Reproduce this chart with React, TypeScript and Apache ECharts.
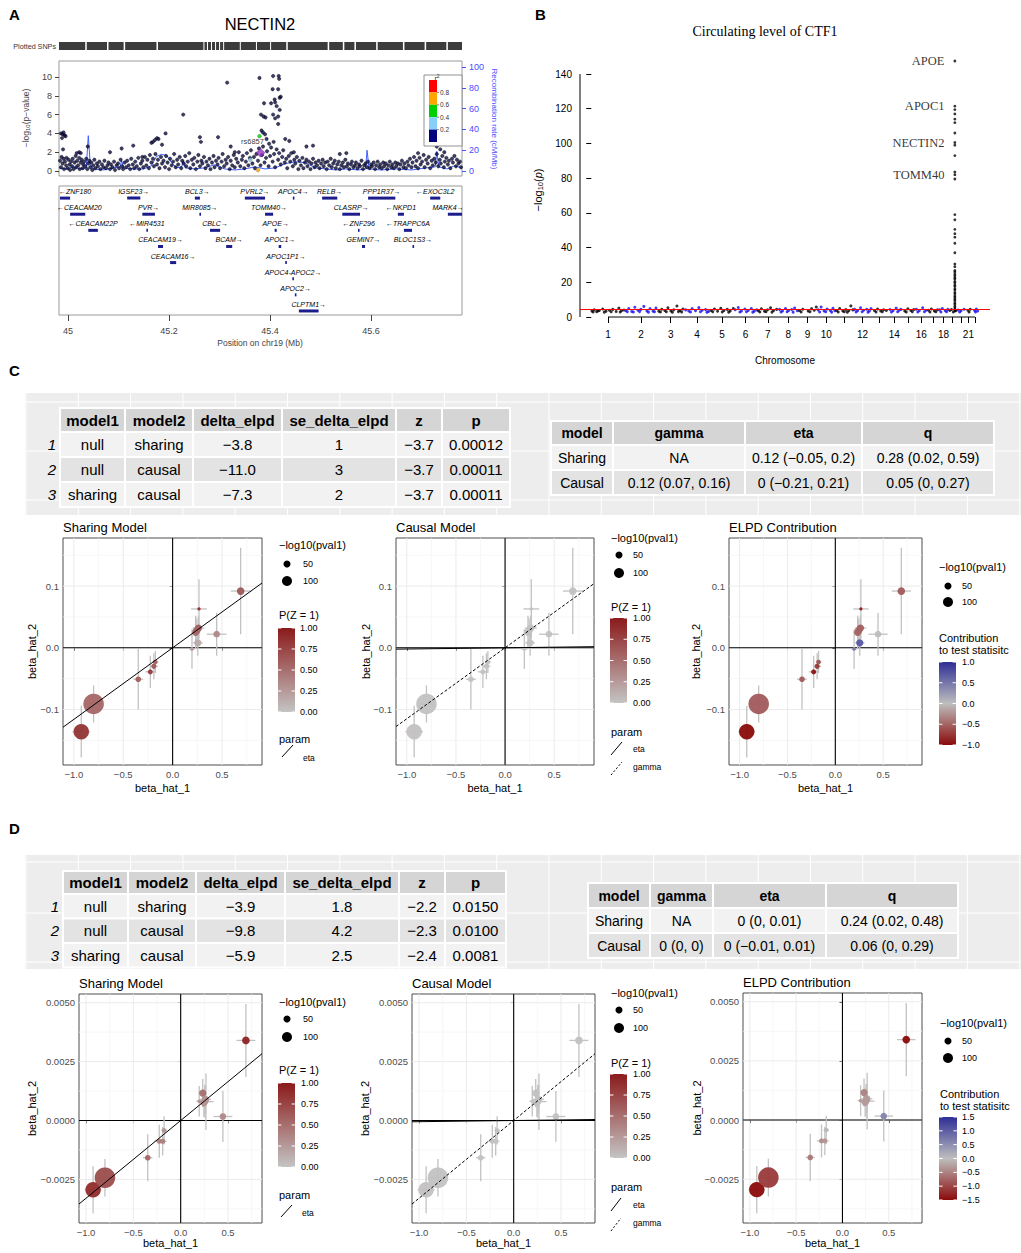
import React, { useEffect, useRef } from "react";
import * as echarts from "echarts";

const SANS = "'Liberation Sans', Arial, Helvetica, sans-serif";
const SERIF = "'Liberation Serif', 'Times New Roman', Times, serif";
const MINUS = "\u2212";

// ================= Panel A: regional plot (NECTIN2) =================
const aXRange = [44.982, 45.78];
const aLeftTicks = [0, 2, 4, 6, 8, 10];
const aRightTicks = [0, 20, 40, 60, 80, 100];
const aXTicks = [45, 45.2, 45.4, 45.6];
const aR2Labels = ["0.8", "0.6", "0.4", "0.2"];
const aBand = [
  [44.984,1.1],[44.986,0.4],[44.987,1.5],[44.989,0.8],[44.991,1.3],[44.992,0.2],[44.994,1.0],[44.996,0.6],[44.997,1.4],[44.999,0.3],
  [45.001,1.2],[45.003,0.7],[45.004,0.1],[45.006,1.0],[45.008,0.5],[45.009,1.3],[45.011,0.2],[45.013,0.9],[45.015,1.6],[45.016,0.4],
  [45.018,1.1],[45.020,0.6],[45.022,1.4],[45.023,0.2],[45.025,0.9],[45.027,1.2],[45.029,0.3],[45.030,0.7],[45.032,1.0],[45.034,0.5],
  [45.036,1.3],[45.038,0.2],[45.040,0.8],[45.042,1.1],[45.044,0.4],[45.046,0.9],[45.048,0.1],[45.050,0.6],[45.052,1.2],[45.054,0.3],
  [45.057,0.8],[45.059,0.5],[45.062,1.0],[45.064,0.2],[45.067,0.7],[45.070,0.4],[45.072,1.1],[45.075,0.3],[45.078,0.6],[45.080,0.9],
  [45.083,0.2],[45.085,0.7],[45.088,0.4],[45.091,1.0],[45.093,0.1],[45.096,0.6],[45.099,0.8],[45.101,0.3],[45.104,1.2],[45.107,0.5],
  [45.109,0.2],[45.112,0.9],[45.115,0.4],[45.117,1.1],[45.120,0.6],[45.123,0.2],[45.125,1.3],[45.128,0.7],[45.131,0.3],[45.133,1.0],
  [45.136,0.5],[45.139,1.4],[45.141,0.2],[45.144,0.8],[45.147,1.1],[45.149,0.4],[45.152,1.5],[45.155,0.6],[45.157,1.2],[45.160,0.3],
  [45.162,1.7],[45.165,0.9],[45.168,1.3],[45.170,0.5],[45.173,1.8],[45.176,0.7],[45.178,1.2],[45.181,0.3],[45.184,1.5],[45.186,0.8],
  [45.189,1.1],[45.192,0.4],[45.194,1.6],[45.197,0.9],[45.200,0.2],[45.202,1.3],[45.205,0.6],[45.208,1.0],[45.210,1.8],[45.213,0.4],
  [45.216,1.2],[45.218,0.7],[45.221,1.5],[45.224,0.3],[45.226,1.1],[45.229,0.8],[45.232,1.6],[45.234,0.5],[45.237,1.0],[45.240,1.9],
  [45.242,0.3],[45.245,1.2],[45.248,0.7],[45.250,1.4],[45.253,0.2],[45.256,1.0],[45.258,1.7],[45.261,0.5],[45.264,1.1],[45.266,0.8],
  [45.269,1.5],[45.272,0.3],[45.274,1.0],[45.277,0.6],[45.280,1.3],[45.282,0.2],[45.285,0.9],[45.288,1.6],[45.290,0.4],[45.293,1.1],
  [45.296,0.7],[45.298,1.4],[45.301,0.3],[45.304,1.0],[45.306,1.8],[45.309,0.5],[45.312,1.2],[45.314,0.8],[45.317,1.5],[45.320,0.2],
  [45.322,1.1],[45.325,0.6],[45.328,1.7],[45.330,0.4],[45.333,1.3],[45.336,0.9],[45.338,2.0],[45.341,0.5],[45.344,1.2],[45.346,1.6],
  [45.349,0.3],[45.352,1.0],[45.354,1.9],[45.357,0.6],[45.360,1.4],[45.362,2.2],[45.365,0.8],[45.368,1.5],[45.370,0.3],[45.373,1.8],
  [45.376,1.1],[45.378,2.4],[45.381,0.6],[45.384,1.7],[45.386,2.6],[45.389,0.9],[45.392,1.4],[45.394,2.1],[45.397,0.5],[45.400,1.6],
  [45.402,2.5],[45.405,1.0],[45.408,1.8],[45.410,0.4],[45.413,2.3],[45.416,1.2],[45.418,1.9],[45.421,0.7],[45.424,1.5],[45.426,2.2],
  [45.429,0.9],[45.432,1.3],[45.434,0.3],[45.437,1.6],[45.440,1.0],[45.442,1.9],[45.445,0.5],[45.448,1.2],[45.450,0.8],[45.453,1.5],
  [45.456,0.2],[45.458,1.1],[45.461,0.6],[45.464,1.4],[45.466,0.3],[45.469,0.9],[45.472,1.2],[45.474,0.5],[45.477,1.0],[45.480,0.2],
  [45.482,0.8],[45.485,1.3],[45.488,0.4],[45.490,0.9],[45.493,0.6],[45.496,1.1],[45.498,0.3],[45.501,0.8],[45.504,1.2],[45.506,0.5],
  [45.509,0.9],[45.512,0.2],[45.514,1.0],[45.517,0.6],[45.520,1.3],[45.522,0.4],[45.525,0.8],[45.528,1.1],[45.530,0.3],[45.533,0.7],
  [45.536,1.0],[45.538,0.2],[45.541,0.6],[45.544,0.9],[45.546,0.4],[45.549,1.2],[45.552,0.5],[45.554,0.8],[45.557,0.2],[45.560,0.7],
  [45.562,1.0],[45.565,0.4],[45.568,0.6],[45.570,0.9],[45.573,0.3],[45.576,0.7],[45.578,0.5],[45.581,1.1],[45.584,0.2],[45.586,0.6],
  [45.589,0.8],[45.592,0.4],[45.594,1.0],[45.597,0.3],[45.600,0.7],[45.602,0.5],[45.605,0.9],[45.608,0.2],[45.610,0.6],[45.613,1.0],
  [45.616,0.4],[45.618,0.7],[45.621,0.3],[45.624,0.9],[45.626,0.5],[45.629,0.8],[45.632,0.2],[45.634,0.6],[45.637,1.0],[45.640,0.4],
  [45.642,0.7],[45.645,0.3],[45.648,0.9],[45.650,0.5],[45.653,0.8],[45.656,0.2],[45.658,0.7],[45.661,1.1],[45.664,0.4],[45.666,0.8],
  [45.669,0.3],[45.672,1.0],[45.674,0.6],[45.677,1.3],[45.680,0.4],[45.682,0.9],[45.685,1.5],[45.688,0.5],[45.690,1.1],[45.693,0.3],
  [45.696,1.4],[45.698,0.7],[45.701,1.0],[45.704,1.7],[45.706,0.4],[45.709,1.2],[45.712,0.8],[45.714,1.5],[45.717,0.3],[45.720,1.1],
  [45.722,0.6],[45.725,1.3],[45.728,0.9],[45.730,1.8],[45.733,0.5],[45.736,1.2],[45.738,0.8],[45.741,1.6],[45.744,0.4],[45.746,1.0],
  [45.749,1.4],[45.752,0.7],[45.754,1.1],[45.757,0.3],[45.760,1.3],[45.762,0.9],[45.765,1.6],[45.768,0.5],[45.770,1.2],[45.773,0.8],
  [45.776,1.0],[45.778,0.4]
];
const aHigh = [
  [44.986,4.0],[44.989,3.9],[44.991,4.1],[44.993,3.8],[44.995,3.7],[44.988,3.5],[44.990,2.3],[45.017,1.9],[45.022,2.0],[45.025,1.9],
  [45.039,2.6],[45.083,2.0],[45.106,2.4],[45.129,2.7],[45.147,1.5],[45.165,3.0],[45.168,3.1],[45.172,3.3],[45.176,3.5],[45.179,3.4],
  [45.193,4.0],[45.186,2.8],[45.228,6.0],[45.261,3.6],[45.263,3.1],[45.297,3.6],[45.315,9.4],[45.322,2.6],[45.330,2.0],[45.379,9.9],
  [45.382,6.0],[45.387,5.8],[45.383,4.3],[45.386,4.1],[45.390,3.9],[45.393,3.4],[45.388,7.2],[45.391,5.7],[45.406,10.1],[45.417,10.1],
  [45.418,9.8],[45.405,8.7],[45.416,8.7],[45.409,7.6],[45.410,7.3],[45.402,7.2],[45.413,6.9],[45.419,7.8],[45.421,7.9],[45.419,6.5],
  [45.406,6.0],[45.416,5.8],[45.410,5.6],[45.416,5.0],[45.430,3.4],[45.438,3.2],[45.407,3.1],[45.398,2.9],[45.447,2.0],[45.472,2.6],
  [45.485,2.7],[45.538,1.8],[45.551,1.9],[45.693,1.9],[45.730,2.6],[45.737,2.3],[45.745,2.0]
];
const aLd = [[45.379, 3.7, 0.5], [45.361, 1.2, 0.3], [45.376, 0.1, 0.7]];
const aLead = [45.381, 1.95];
const aLeadName = "rs6857";
const aRecomb = [
  [44.982,3],[44.995,2],[45.01,4],[45.025,2],[45.036,3],[45.040,34],[45.044,6],[45.05,2],[45.07,1],[45.09,3],[45.103,4],[45.106,10],
  [45.11,3],[45.13,2],[45.15,2],[45.165,5],[45.175,14],[45.185,16],[45.195,15],[45.205,8],[45.215,3],[45.225,4],[45.228,10],[45.232,3],
  [45.25,2],[45.27,3],[45.29,6],[45.31,2],[45.33,1],[45.35,2],[45.37,4],[45.39,2],[45.41,3],[45.43,7],[45.45,9],[45.47,8],[45.49,3],
  [45.51,2],[45.53,1],[45.55,2],[45.575,1],[45.589,2],[45.592,20],[45.596,2],[45.62,1],[45.65,2],[45.68,1],[45.71,3],[45.727,4],
  [45.730,19],[45.734,4],[45.75,2],[45.765,5],[45.78,3]
];
const aSnpSegments = [
  [44.982,45.034],[45.037,45.077],[45.080,45.110],[45.113,45.175],[45.178,45.268],[45.270,45.275],[45.277,45.283],[45.285,45.291],
  [45.293,45.299],[45.301,45.307],[45.309,45.340],[45.342,45.372],[45.374,45.400],[45.402,45.432],[45.435,45.514],[45.517,45.544],
  [45.547,45.567],[45.570,45.610],[45.613,45.663],[45.666,45.706],[45.709,45.749],[45.752,45.78]
];
// name, start (Mb), end (Mb), row, strand
const aGenes = [
  ["ZNF180",44.984,45.004,1,-1],["IGSF23",45.117,45.143,1,1],["BCL3",45.251,45.261,1,1],["PVRL2",45.350,45.390,1,1],
  ["APOC4",45.445,45.447,1,1],["RELB",45.503,45.533,1,1],["PPP1R37",45.594,45.648,1,1],["EXOC3L2",45.717,45.737,1,-1],
  ["CEACAM20",45.004,45.034,2,-1],["PVR",45.147,45.172,2,1],["MIR8085",45.260,45.262,2,1],["TOMM40",45.390,45.406,2,1],
  ["CLASRP",45.543,45.578,2,1],["NKPD1",45.653,45.665,2,-1],["MARK4",45.752,45.780,2,1],
  ["CEACAM22P",45.040,45.059,3,-1],["MIR4531",45.155,45.157,3,-1],["CBLC",45.281,45.301,3,1],["APOE",45.409,45.413,3,1],
  ["ZNF296",45.574,45.577,3,-1],["TRAPPC6A",45.665,45.681,3,-1],
  ["CEACAM19",45.178,45.188,4,1],["BCAM",45.313,45.325,4,1],["APOC1",45.417,45.422,4,1],["GEMIN7",45.582,45.588,4,1],
  ["BLOC1S3",45.682,45.684,4,1],
  ["CEACAM16",45.202,45.214,5,1],["APOC1P1",45.430,45.433,5,1],
  ["APOC4-APOC2",45.444,45.447,6,1],["APOC2",45.449,45.452,7,1],["CLPTM1",45.457,45.496,8,1]
];

// ================= Panel B: Manhattan plot =================
const bChrLengths = [249,243,198,191,181,171,159,146,141,136,135,134,115,107,103,90,81,78,59,63,48,51];
const bLabeledChr = [1,2,3,4,5,6,7,8,9,10,12,14,16,18,21];
const bYTicks = [0,20,40,60,80,100,120,140];
const bThreshold = 4.3;
const bBand = [
  [1,5,3.4],[1,22,4.2],[1,40,3.1],[1,60,3.8],[1,85,4.6],[1,110,3.3],[1,135,3.9],[1,160,4.4],[1,185,3.2],[1,205,5.1],[1,225,3.6],[1,243,4.0],
  [1,14,2.9],[1,50,3.5],[1,97,2.8],[1,148,3.0],[1,215,2.9],
  [2,8,3.7],[2,30,4.9],[2,52,3.2],[2,75,5.6],[2,98,3.9],[2,120,4.4],[2,142,6.1],[2,165,3.5],[2,188,4.8],[2,210,3.3],[2,232,5.2],
  [2,19,3.0],[2,64,2.9],[2,110,3.1],[2,176,2.8],[2,221,3.0],
  [3,10,3.3],[3,32,4.5],[3,55,3.8],[3,78,5.3],[3,100,3.5],[3,122,4.2],[3,145,6.3],[3,168,3.7],[3,190,4.6],
  [3,22,2.9],[3,66,3.0],[3,111,2.8],[3,156,3.1],[3,180,2.9],
  [4,12,4.1],[4,35,3.4],[4,60,4.8],[4,85,3.6],[4,110,5.4],[4,135,3.9],[4,160,4.3],[4,182,3.2],[4,48,2.9],[4,122,3.0],[4,170,2.8],
  [5,10,3.8],[5,35,4.6],[5,58,3.3],[5,82,5.0],[5,105,3.7],[5,130,4.4],[5,152,3.5],[5,175,4.9],[5,22,3.0],[5,93,2.9],[5,141,2.8],
  [6,8,4.2],[6,31,5.5],[6,55,3.4],[6,80,4.6],[6,105,3.8],[6,128,4.9],[6,150,3.3],[6,168,4.1],[6,43,2.9],[6,92,3.0],[6,139,2.8],
  [7,10,3.6],[7,32,4.7],[7,55,3.3],[7,78,4.2],[7,100,5.3],[7,122,3.7],[7,145,4.4],[7,20,2.9],[7,66,3.0],[7,111,2.8],
  [8,8,4.4],[8,30,3.5],[8,52,4.9],[8,75,3.8],[8,98,4.3],[8,120,5.2],[8,140,3.6],[8,19,2.9],[8,64,3.0],[8,109,2.8],
  [9,10,3.7],[9,35,4.5],[9,75,3.4],[9,100,4.8],[9,120,3.9],[9,135,5.8],[9,22,2.9],[9,88,3.0],
  [10,8,4.1],[10,30,5.7],[10,52,3.5],[10,75,4.6],[10,98,3.8],[10,118,5.0],[10,132,3.6],[10,19,2.9],[10,64,3.0],[10,108,2.8],
  [11,10,3.8],[11,32,4.9],[11,55,3.5],[11,78,4.3],[11,100,3.7],[11,115,6.4],[11,130,4.1],[11,21,2.9],[11,66,3.0],[11,89,2.8],
  [12,8,4.4],[12,30,3.6],[12,52,5.3],[12,75,3.9],[12,98,4.5],[12,118,3.4],[12,130,4.8],[12,19,2.9],[12,64,3.0],[12,108,2.8],
  [13,22,3.7],[13,45,4.6],[13,68,3.4],[13,90,4.2],[13,110,3.8],[13,33,2.9],[13,80,3.0],
  [14,22,4.3],[14,45,3.6],[14,68,5.1],[14,90,3.9],[14,103,4.4],[14,33,2.9],[14,79,3.0],
  [15,25,3.5],[15,48,4.7],[15,70,3.8],[15,92,4.3],[15,36,2.9],[15,81,3.0],
  [16,8,4.5],[16,30,3.7],[16,55,5.3],[16,80,3.9],[16,19,2.9],[16,68,3.0],
  [17,8,3.9],[17,30,4.6],[17,52,3.5],[17,75,4.2],[17,19,2.9],[17,63,3.0],
  [18,10,4.1],[18,30,4.9],[18,52,3.6],[18,72,4.4],[18,20,2.9],[18,62,3.0],
  [19,8,3.8],[19,20,4.3],[19,52,3.6],[19,34,2.9],
  [20,10,4.0],[20,32,3.6],[20,55,4.5],[20,22,2.9],
  [21,20,3.9],[21,38,4.5],[21,29,2.9],
  [22,22,3.8],[22,35,4.6],[22,45,3.5],[22,29,2.9]
];
const bPeakChr = 19;
const bPeakPos = 45.4;
const bPeak = [147.5,121.5,119.5,117,114,112,106,100.5,99,93,83.5,82,79.5,59,56,50.5,48,46,42.5,37,30.5,29,
  26.8,25.9,24.7,23.8,22.6,21.9,20.5,19.7,18.4,17.6,16.3,15.5,14.2,13.4,12.1,11.3,10.2,9.4,8.1,7.3,6.2,5.4,4.3,3.5];
const bPeakLabels = [["APOE",147.5],["APOC1",121.5],["NECTIN2",100.5],["TOMM40",82]];

// ================= Panels C & D: scatter data (same SNPs) =================
const beta1 = [-0.925,-0.80,-0.348,-0.226,-0.19,-0.175,0.196,0.233,0.255,0.267,0.262,0.245,0.446,0.689];
const se1 = [0.09,0.09,0.05,0.05,0.04,0.03,0.03,0.04,0.05,0.08,0.06,0.04,0.10,0.10];
const negLog10P1 = [225,400,30,25,25,20,12,50,50,10,50,50,42,56];
const cBeta2 = [-0.136,-0.091,-0.051,-0.039,-0.030,-0.023,-0.002,0.025,0.008,0.063,0.032,0.028,0.022,0.092];
const cSe2 = [0.042,0.030,0.049,0.026,0.021,0.018,0.032,0.027,0.021,0.048,0.020,0.020,0.035,0.070];
const cSharingPZ = [0.85,0.55,0.6,0.8,0.65,0.55,0.3,0.5,0.15,0.9,0.6,0.55,0.35,0.65];
const cCausalPZ = [0.02,0.01,0.02,0.02,0.02,0.02,0.01,0.02,0.01,0.02,0.02,0.02,0.01,0.02];
const cContribution = [-1.0,-0.55,-0.55,-0.95,-0.75,-0.6,0.5,-0.5,0.7,-0.9,-0.55,-0.5,0.0,-0.55];
const cSharingEta = 0.116;
const cCausalEta = 0.002;
const cCausalGamma = 0.115;

const dBeta2 = [-0.00294,-0.00243,-0.00158,-0.00088,-0.00088,-0.00042,0.00082,0.00116,0.00082,0.00080,0.00090,0.00075,0.00017,0.00340];
const dSe2 = [0.00100,0.00080,0.00100,0.00070,0.00060,0.00060,0.00065,0.00060,0.00070,0.00120,0.00060,0.00060,0.00108,0.00155];
const dSharingPZ = [0.9,0.7,0.55,0.4,0.4,0.3,0.3,0.5,0.3,0.3,0.3,0.3,0.35,0.95];
const dCausalPZ = [0.02,0.01,0.02,0.02,0.02,0.02,0.01,0.02,0.01,0.02,0.02,0.02,0.01,0.02];
const dContribution = [-1.5,-1.1,-0.6,-0.4,-0.35,-0.05,-0.3,-0.5,-0.3,-0.3,-0.3,-0.3,0.6,-1.5];
const dSharingEta = 0.0033;
const dCausalEta = 0.00005;
const dCausalGamma = 0.0033;

// ================= Tables =================
const compareHeader = ["model1","model2","delta_elpd","se_delta_elpd","z","p"];
const cCompareRows = [
  ["null","sharing",MINUS+"3.8","1",MINUS+"3.7","0.00012"],
  ["null","causal",MINUS+"11.0","3",MINUS+"3.7","0.00011"],
  ["sharing","causal",MINUS+"7.3","2",MINUS+"3.7","0.00011"]
];
const dCompareRows = [
  ["null","sharing",MINUS+"3.9","1.8",MINUS+"2.2","0.0150"],
  ["null","causal",MINUS+"9.8","4.2",MINUS+"2.3","0.0100"],
  ["sharing","causal",MINUS+"5.9","2.5",MINUS+"2.4","0.0081"]
];
const paramHeader = ["model","gamma","eta","q"];
const cParamRows = [
  ["Sharing","NA","0.12 ("+MINUS+"0.05, 0.2)","0.28 (0.02, 0.59)"],
  ["Causal","0.12 (0.07, 0.16)","0 ("+MINUS+"0.21, 0.21)","0.05 (0, 0.27)"]
];
const dParamRows = [
  ["Sharing","NA","0 (0, 0.01)","0.24 (0.02, 0.48)"],
  ["Causal","0 (0, 0)","0 ("+MINUS+"0.01, 0.01)","0.06 (0, 0.29)"]
];

// ================= helpers =================
function T(x: number, y: number, text: string, o: any = {}) {
  return {
    type: "text", x, y, rotation: o.rot || 0, z: o.z || 20, silent: true,
    style: {
      text, fill: o.fill || "#000", fontSize: o.size || 11, fontFamily: o.family || SANS,
      fontWeight: o.weight || "normal", fontStyle: o.fstyle || "normal",
      align: o.align || "left", verticalAlign: o.va || "middle", rich: o.rich
    }
  };
}
function R(x: number, y: number, w: number, h: number, fill: any, o: any = {}) {
  return { type: "rect", z: o.z || 10, silent: true, shape: { x, y, width: w, height: h },
    style: { fill, stroke: o.stroke || null, lineWidth: o.lw || 0 } };
}
function L(x1: number, y1: number, x2: number, y2: number, stroke: string, o: any = {}) {
  return { type: "line", z: o.z || 20, silent: true, shape: { x1, y1, x2, y2 },
    style: { stroke, lineWidth: o.lw || 1, lineDash: o.dash || null } };
}
function fmt(v: number, d: number) {
  const s = Math.abs(v) < 1e-12 ? (0).toFixed(d) : v.toFixed(d);
  return s.replace("-", MINUS);
}
function rgb(c: number[]) {
  return "rgb(" + c.join(",") + ")";
}

function table(els: any[], x0: number, y0: number, colW: number[], headH: number, rowH: number,
  header: string[], rows: string[][], fs: number, indexW: number) {
  let x = x0;
  if (indexW) {
    rows.forEach((r, i) => els.push(T(x0 + indexW - 4, y0 + headH + rowH * i + rowH / 2, String(i + 1),
      { size: fs, fstyle: "italic", align: "right" })));
    x += indexW;
  }
  header.forEach((h, j) => {
    els.push(R(x, y0, colW[j], headH, "#D5D5D5", { stroke: "#fff", lw: 2 }));
    els.push(T(x + colW[j] / 2, y0 + headH / 2, h, { size: fs, weight: "bold", align: "center" }));
    rows.forEach((r, i) => {
      els.push(R(x, y0 + headH + rowH * i, colW[j], rowH, i % 2 === 0 ? "#F2F2F2" : "#E3E3E3", { stroke: "#fff", lw: 2 }));
      els.push(T(x + colW[j] / 2, y0 + headH + rowH * i + rowH / 2, r[j], { size: fs, align: "center" }));
    });
    x += colW[j];
  });
}

function tableBackground(els: any[], y0: number, h: number, hLines: number[]) {
  els.push(R(25, y0, 996, h, "#EDEDED", { z: 1 }));
  for (let k = 0; k < 20; k++) {
    const x = 26 + 52.3 * k;
    els.push(L(x, y0, x, y0 + h, "#FFFFFF", { z: 2, lw: 1 }));
  }
  hLines.forEach((y) => els.push(L(25, y, 1021, y, "#FFFFFF", { z: 2, lw: 1 })));
}

function sizeLegend(els: any[], x: number, yTitle: number, cx: number, lx: number, y50: number, y100: number) {
  els.push(T(x, yTitle, MINUS + "log10(pval1)", { size: 11 }));
  els.push({ type: "circle", z: 20, silent: true, shape: { cx, cy: y50, r: Math.sqrt(50) / 2 }, style: { fill: "#000" } });
  els.push({ type: "circle", z: 20, silent: true, shape: { cx, cy: y100, r: Math.sqrt(100) / 2 }, style: { fill: "#000" } });
  els.push(T(lx, y50, "50", { size: 9 }));
  els.push(T(lx, y100, "100", { size: 9 }));
}

function colorbar(els: any[], x: number, y: number, w: number, h: number, colorsTopDown: string[], labels: string[], lx: number) {
  const stops = colorsTopDown.map((c, i) => ({ offset: i / (colorsTopDown.length - 1), color: c }));
  els.push({ type: "rect", z: 20, silent: true, shape: { x, y, width: w, height: h },
    style: { fill: new echarts.graphic.LinearGradient(0, 0, 0, 1, stops) } });
  labels.forEach((lab, i) => {
    const yy = y + (h * i) / (labels.length - 1);
    els.push(L(x, yy, x + w * 0.2, yy, "#FFFFFF", { z: 21, lw: 1 }));
    els.push(L(x + w * 0.8, yy, x + w, yy, "#FFFFFF", { z: 21, lw: 1 }));
    els.push(T(lx, yy, lab, { size: 9 }));
  });
}

function paramLegend(els: any[], x: number, yTitle: number, keys: any[]) {
  els.push(T(x, yTitle, "param", { size: 11 }));
  keys.forEach((k) => {
    els.push(L(k.x1, k.y1, k.x2, k.y2, "#000", { lw: 1, dash: k.dash ? [2, 2] : null }));
    els.push(T(k.lx, k.ly, k.label, { size: 8.5 }));
  });
}

const P_LOW = rgb([196, 196, 196]);
const P_HIGH = rgb([139, 26, 26]);
const C_LOW = rgb([139, 10, 10]);
const C_MID = rgb([190, 190, 190]);
const C_HIGH = rgb([46, 46, 150]);

function buildOption() {
  const grid: any[] = [], xAxis: any[] = [], yAxis: any[] = [], series: any[] = [], visualMap: any[] = [], els: any[] = [];

  // ---------- Panel A ----------
  els.push(T(9, 14, "A", { size: 15, weight: "bold" }));
  els.push(T(260, 24, "NECTIN2", { size: 16.5, align: "center" }));
  els.push(T(56, 46, "Plotted SNPs", { size: 7.2, align: "right", fill: "#333" }));

  grid.push({ left: 59, top: 61, width: 403, height: 115, show: true, borderColor: "#9A9A9A", borderWidth: 1, backgroundColor: "#fff" }); // 0
  xAxis.push({ gridIndex: 0, type: "value", min: aXRange[0], max: aXRange[1], show: false });
  yAxis.push({ gridIndex: 0, type: "value", min: -0.53, max: 11.7, axisLine: { show: false }, splitLine: { show: false },
    axisTick: { show: true, customValues: aLeftTicks, length: 4, lineStyle: { color: "#444" } },
    axisLabel: { customValues: aLeftTicks, fontSize: 9, color: "#444", margin: 7 } });
  yAxis.push({ gridIndex: 0, type: "value", position: "right", min: -4.8, max: 105.8, axisLine: { show: false }, splitLine: { show: false },
    axisTick: { show: true, customValues: aRightTicks, length: 4, lineStyle: { color: "#4B4BFF" } },
    axisLabel: { customValues: aRightTicks, fontSize: 9, color: "#4B4BFF", margin: 7 } });

  series.push({ type: "line", xAxisIndex: 0, yAxisIndex: 1, data: aRecomb, showSymbol: false, silent: true, z: 1,
    lineStyle: { color: "#4060FF", width: 1 } });
  series.push({ type: "scatter", xAxisIndex: 0, yAxisIndex: 0, data: aBand.concat(aHigh), symbolSize: 3.4, silent: true, z: 3,
    itemStyle: { color: "#0C0C48", borderColor: "#000", borderWidth: 0.5 } });
  const r2Colors = ["#000080", "#87CEFA", "#00D000", "#FFA500", "#FF0000"];
  series.push({ type: "scatter", xAxisIndex: 0, yAxisIndex: 0, data: aLd, symbolSize: 3.8, silent: true, z: 4,
    itemStyle: { color: (p: any) => r2Colors[Math.min(4, Math.floor(p.data[2] / 0.2))], borderColor: "#333", borderWidth: 0.3 } });
  series.push({ type: "scatter", xAxisIndex: 0, yAxisIndex: 0, data: [aLead], symbol: "diamond", symbolSize: 9, silent: true, z: 5,
    itemStyle: { color: "#9932CC", borderColor: "#333", borderWidth: 0.5 },
    label: { show: true, position: "top", offset: [-8, 3], formatter: aLeadName, fontSize: 7.5, color: "#000", fontFamily: SANS } });

  els.push(T(26, 118, "{a|" + MINUS + "log}{s|10}{a|(p" + MINUS + "value)}", { rot: Math.PI / 2, align: "center",
    rich: { a: { fontSize: 8.5, fill: "#444", fontFamily: SANS }, s: { fontSize: 6, fill: "#444", fontFamily: SANS, padding: [4, 0, 0, 0] } } }));
  els.push(T(494, 119, "Recombination rate (cM/Mb)", { rot: -Math.PI / 2, align: "center", size: 8, fill: "#4B4BFF" }));

  // r^2 legend
  els.push(R(424, 75, 38, 71, "#FFFFFF", { stroke: "#777", lw: 0.8, z: 40 }));
  els.push(T(437, 78, "{a|r}{s|2}", { align: "center", z: 41, rich: { a: { fontSize: 7.5, fontFamily: SANS, fill: "#333" }, s: { fontSize: 5, fontFamily: SANS, fill: "#333", padding: [0, 0, 4, 0] } } }));
  const cellColors = ["#FF0000", "#FFA500", "#00D000", "#87CEFA", "#000080"];
  cellColors.forEach((c, i) => els.push(R(429, 80 + i * 12.4, 8, 12.4, c, { z: 41 })));
  aR2Labels.forEach((lab, i) => {
    const yy = 80 + (i + 1) * 12.4;
    els.push(L(437, yy, 439, yy, "#333", { z: 41, lw: 0.6 }));
    els.push(T(440, yy, lab, { size: 6.5, fill: "#333", z: 41 }));
  });

  // Plotted SNP rug
  grid.push({ left: 59, top: 42, width: 403, height: 8, show: false }); // 1
  xAxis.push({ gridIndex: 1, type: "value", min: aXRange[0], max: aXRange[1], show: false });
  yAxis.push({ gridIndex: 1, type: "value", min: 0, max: 1, show: false });
  series.push({ type: "custom", xAxisIndex: 1, yAxisIndex: 2, silent: true, data: aSnpSegments.map((s) => [s[0], s[1]]),
    renderItem: (params: any, api: any) => {
      const s = aSnpSegments[params.dataIndex];
      const p1 = api.coord([s[0], 0]); const p2 = api.coord([s[1], 1]);
      return { type: "rect", shape: { x: p1[0], y: p2[1], width: Math.max(0.8, p2[0] - p1[0]), height: p1[1] - p2[1] }, style: { fill: "#3C3C3C" } };
    } });

  // Genes
  grid.push({ left: 59, top: 186, width: 403, height: 129, show: true, borderColor: "#9A9A9A", borderWidth: 1, backgroundColor: "#fff" }); // 2
  xAxis.push({ gridIndex: 2, type: "value", min: aXRange[0], max: aXRange[1], axisLine: { show: false }, splitLine: { show: false },
    axisTick: { show: true, customValues: aXTicks, length: 6, lineStyle: { color: "#444" } },
    axisLabel: { customValues: aXTicks, fontSize: 9, color: "#444", margin: 11, formatter: (v: number) => String(+v.toFixed(1)) } });
  yAxis.push({ gridIndex: 2, type: "value", min: 0.25, max: 8.25, inverse: true, show: false });
  series.push({ type: "custom", xAxisIndex: 2, yAxisIndex: 3, silent: true, z: 3, data: aGenes.map((g) => [g[1], g[3]]),
    renderItem: (params: any, api: any) => {
      const g: any = aGenes[params.dataIndex];
      const p1 = api.coord([g[1], g[3]]); const p2 = api.coord([g[2], g[3]]);
      const cs = params.coordSys;
      const label = g[4] < 0 ? "\u2190" + g[0] : g[0] + "\u2192";
      const w = label.length * 4.3;
      let cx = (p1[0] + p2[0]) / 2;
      cx = Math.max(cs.x + w / 2 + 1, Math.min(cs.x + cs.width - w / 2 - 1, cx));
      const bw = Math.max(1.6, p2[0] - p1[0]);
      return { type: "group", children: [
        { type: "rect", shape: { x: p1[0], y: p1[1] - 1.5, width: bw, height: 3 }, style: { fill: "#1C1C8C" } },
        { type: "text", x: cx, y: p1[1] - 6.5, style: { text: label, fill: "#000", fontSize: 7, fontStyle: "italic", fontFamily: SANS, align: "center", verticalAlign: "middle" } }
      ] };
    } });
  els.push(T(260, 343, "Position on chr19 (Mb)", { size: 8.5, align: "center", fill: "#444" }));

  // ---------- Panel B ----------
  els.push(T(535, 14, "B", { size: 15, weight: "bold" }));
  els.push(T(765, 31, "Circulating level of CTF1", { size: 14, align: "center", family: SERIF }));
  const chrStart: number[] = []; let acc = 0;
  bChrLengths.forEach((l) => { chrStart.push(acc); acc += l; });
  const chrCenter = bChrLengths.map((l, i) => chrStart[i] + l / 2);
  const bXMin = -83.7, bXMax = 2964.6;
  grid.push({ left: 580, top: 48, width: 410, height: 269, show: false }); // 3
  xAxis.push({ gridIndex: 3, type: "value", min: bXMin, max: bXMax, offset: 1, axisLine: { show: false }, splitLine: { show: false },
    axisTick: { show: true, customValues: chrCenter, length: 6, lineStyle: { color: "#000" } },
    axisLabel: { customValues: bLabeledChr.map((c) => chrCenter[c - 1]), fontSize: 10, color: "#000", margin: 11,
      formatter: (v: number) => { const i = chrCenter.findIndex((c) => Math.abs(c - v) < 1e-6); return String(i + 1); } } });
  yAxis.push({ gridIndex: 3, type: "value", min: 0, max: 155, axisLine: { show: false }, splitLine: { show: false },
    axisTick: { show: true, customValues: bYTicks, length: 5, lineStyle: { color: "#000" } },
    axisLabel: { customValues: bYTicks, fontSize: 10, color: "#000", margin: 8 } });
  series.push({ type: "line", xAxisIndex: 3, yAxisIndex: 4, data: [[bXMin, 0], [bXMin, 140]], showSymbol: false, silent: true, clip: false,
    lineStyle: { color: "#000", width: 1 } });
  series.push({ type: "line", xAxisIndex: 3, yAxisIndex: 4, data: [[chrCenter[0], 0], [chrCenter[21], 0]], showSymbol: false, silent: true, clip: false,
    lineStyle: { color: "#000", width: 1 }, z: 1 });
  const bPts = bBand.map((d) => [chrStart[d[0] - 1] + d[1], d[2], d[0]]);
  series.push({ type: "scatter", xAxisIndex: 3, yAxisIndex: 4, data: bPts, symbolSize: 3, silent: true, z: 3,
    itemStyle: { color: (p: any) => (p.data[2] % 2 === 1 ? "#000" : "#1010F0") } });
  const peakData = bPeak.map((v) => {
    const lab = bPeakLabels.find((l) => l[1] === v);
    const item: any = { value: [chrStart[bPeakChr - 1] + bPeakPos, v] };
    if (lab) item.label = { show: true, position: "left", distance: 9, formatter: lab[0], fontFamily: SERIF, fontSize: 12.5, color: "#000" };
    return item;
  });
  series.push({ type: "scatter", xAxisIndex: 3, yAxisIndex: 4, data: peakData, symbolSize: 2.8, silent: true, z: 4, itemStyle: { color: "#000" } });
  series.push({ type: "line", xAxisIndex: 3, yAxisIndex: 4, data: [[bXMin, bThreshold], [bXMax, bThreshold]], showSymbol: false, silent: true,
    lineStyle: { color: "#FF0000", width: 1 }, z: 5 });
  els.push(T(538, 190, "{a|" + MINUS + "log}{s|10}{a|(}{i|p}{a|)}", { rot: Math.PI / 2, align: "center",
    rich: { a: { fontSize: 11, fontFamily: SANS }, s: { fontSize: 7.5, fontFamily: SANS, padding: [5, 0, 0, 0] }, i: { fontSize: 11, fontFamily: SANS, fontStyle: "italic" } } }));
  els.push(T(785, 360, "Chromosome", { size: 10, align: "center" }));

  // ---------- Panels C and D: tables ----------
  els.push(T(9, 370, "C", { size: 15, weight: "bold" }));
  els.push(T(9, 828, "D", { size: 15, weight: "bold" }));
  tableBackground(els, 393, 122, [402, 451, 500]);
  tableBackground(els, 855, 114, [862, 913, 962]);
  table(els, 37, 408, [65, 68, 89, 114, 46, 68], 24, 25, compareHeader, cCompareRows, 15, 23);
  table(els, 551, 421, [62, 132, 117, 132], 24, 25, paramHeader, cParamRows, 14, 0);
  table(els, 40, 871, [65, 68, 89, 114, 46, 61], 23, 24.5, compareHeader, dCompareRows, 15, 23);
  table(els, 588, 883, [62, 63, 113, 132], 25, 25, paramHeader, dParamRows, 14, 0);

  // ---------- Panels C and D: scatter panels ----------
  const cX = [-1.11, 0.905], cY = [-0.19, 0.178];
  const dX = [-1.074, 0.859], dY = [-0.00435, 0.00537];
  const xb = [-1, -0.5, 0, 0.5], xm = [-0.75, -0.25, 0.25, 0.75];
  const cyb = [-0.1, 0, 0.1], cym = [-0.15, -0.05, 0.05, 0.15];
  const dyb = [-0.0025, 0, 0.0025, 0.005], dym = [-0.00375, -0.00125, 0.00125, 0.00375];

  const panels = [
    { left: 63, top: 538, width: 199, height: 227, xr: cX, yr: cY, yb: cyb, ym: cym, yd: 1, beta2: cBeta2, se2: cSe2, col: cSharingPZ, kind: "P",
      lines: [{ s: cSharingEta, dash: false }], title: "Sharing Model", ytx: 32 },
    { left: 396, top: 538, width: 198, height: 227, xr: cX, yr: cY, yb: cyb, ym: cym, yd: 1, beta2: cBeta2, se2: cSe2, col: cCausalPZ, kind: "P",
      lines: [{ s: cCausalEta, dash: false }, { s: cCausalGamma, dash: true }], title: "Causal Model", ytx: 366 },
    { left: 729, top: 538, width: 193, height: 227, xr: cX, yr: cY, yb: cyb, ym: cym, yd: 1, beta2: cBeta2, se2: cSe2, col: cContribution, kind: "C1",
      lines: [], title: "ELPD Contribution", ytx: 696 },
    { left: 79, top: 994, width: 183, height: 229, xr: dX, yr: dY, yb: dyb, ym: dym, yd: 4, beta2: dBeta2, se2: dSe2, col: dSharingPZ, kind: "P",
      lines: [{ s: dSharingEta, dash: false }], title: "Sharing Model", ytx: 32 },
    { left: 412, top: 994, width: 183, height: 229, xr: dX, yr: dY, yb: dyb, ym: dym, yd: 4, beta2: dBeta2, se2: dSe2, col: dCausalPZ, kind: "P",
      lines: [{ s: dCausalEta, dash: false }, { s: dCausalGamma, dash: true }], title: "Causal Model", ytx: 365 },
    { left: 743, top: 993, width: 179, height: 230, xr: dX, yr: dY, yb: dyb, ym: dym, yd: 4, beta2: dBeta2, se2: dSe2, col: dContribution, kind: "C15",
      lines: [], title: "ELPD Contribution", ytx: 697 }
  ];

  panels.forEach((p: any) => {
    const gi = grid.length;
    grid.push({ left: p.left, top: p.top, width: p.width, height: p.height, show: true, borderColor: "#4D4D4D", borderWidth: 1, backgroundColor: "#fff" });
    const xi = xAxis.length, yi = yAxis.length;
    xAxis.push({ gridIndex: gi, type: "value", min: p.xr[0], max: p.xr[1], axisLine: { show: false }, splitLine: { show: false },
      axisTick: { show: true, customValues: xb, length: 3, lineStyle: { color: "#333" } },
      axisLabel: { customValues: xb, fontSize: 9.5, color: "#4D4D4D", margin: 4, formatter: (v: number) => fmt(v, 1) } });
    yAxis.push({ gridIndex: gi, type: "value", min: p.yr[0], max: p.yr[1], axisLine: { show: false }, splitLine: { show: false },
      axisTick: { show: true, customValues: p.yb, length: 3, lineStyle: { color: "#333" } },
      axisLabel: { customValues: p.yb, fontSize: 9.5, color: "#4D4D4D", margin: 4, formatter: (v: number) => fmt(v, p.yd) } });

    // grid lines: [x, y, orientation(0=vertical), kind(0 minor,1 major,2 zero line)]
    const gl: number[][] = [];
    xm.forEach((v) => gl.push([v, p.yr[0], 0, 0]));
    p.ym.forEach((v: number) => gl.push([p.xr[0], v, 1, 0]));
    xb.forEach((v) => gl.push([v, p.yr[0], 0, 1]));
    p.yb.forEach((v: number) => gl.push([p.xr[0], v, 1, 1]));
    gl.push([0, p.yr[0], 0, 2]); gl.push([p.xr[0], 0, 1, 2]);
    series.push({ type: "custom", xAxisIndex: xi, yAxisIndex: yi, silent: true, z: 1, data: gl,
      renderItem: (params: any, api: any) => {
        const d = gl[params.dataIndex]; const cs = params.coordSys;
        const pt = api.coord([d[0], d[1]]);
        const style = d[3] === 2 ? { stroke: "#000", lineWidth: 1.1 } : d[3] === 1 ? { stroke: "#EBEBEB", lineWidth: 1 } : { stroke: "#F4F4F4", lineWidth: 0.7 };
        return d[2] === 0
          ? { type: "line", shape: { x1: pt[0], y1: cs.y, x2: pt[0], y2: cs.y + cs.height }, style }
          : { type: "line", shape: { x1: cs.x, y1: pt[1], x2: cs.x + cs.width, y2: pt[1] }, style };
      } });

    // error bars
    const eb = beta1.map((b, i) => [b, p.beta2[i], se1[i], p.se2[i]]);
    series.push({ type: "custom", xAxisIndex: xi, yAxisIndex: yi, silent: true, z: 2, data: eb,
      renderItem: (params: any, api: any) => {
        const d = eb[params.dataIndex];
        const a = api.coord([d[0] - d[2], d[1]]), b = api.coord([d[0] + d[2], d[1]]);
        const c = api.coord([d[0], d[1] - d[3]]), e = api.coord([d[0], d[1] + d[3]]);
        const st = { stroke: "#C2C2C2", lineWidth: 1.3 };
        return { type: "group", children: [
          { type: "line", shape: { x1: a[0], y1: a[1], x2: b[0], y2: b[1] }, style: st },
          { type: "line", shape: { x1: c[0], y1: c[1], x2: e[0], y2: e[1] }, style: st }
        ] };
      } });

    // points
    const si = series.length;
    series.push({ type: "scatter", xAxisIndex: xi, yAxisIndex: yi, silent: true, z: 3,
      data: beta1.map((b, i) => [b, p.beta2[i], negLog10P1[i], p.col[i]]),
      symbolSize: (v: number[]) => Math.sqrt(v[2]) * 1.03, itemStyle: { opacity: 0.95 } });
    if (p.kind === "P") {
      visualMap.push({ type: "continuous", show: false, seriesIndex: si, dimension: 3, min: 0, max: 1,
        inRange: { color: [P_LOW, P_HIGH] } });
    } else {
      const m = p.kind === "C1" ? 1 : 1.5;
      visualMap.push({ type: "continuous", show: false, seriesIndex: si, dimension: 3, min: -m, max: m,
        inRange: { color: [C_LOW, C_MID, C_HIGH] } });
    }

    // parameter lines through origin
    p.lines.forEach((ln: any) => {
      series.push({ type: "line", xAxisIndex: xi, yAxisIndex: yi, silent: true, z: 4, showSymbol: false,
        data: [[p.xr[0], ln.s * p.xr[0]], [p.xr[1], ln.s * p.xr[1]]],
        lineStyle: { color: "#000", width: 1, type: ln.dash ? [3, 2] : "solid" } });
    });

    els.push(T(p.left, p.top - 11, p.title, { size: 13 }));
    els.push(T(p.left + p.width / 2, p.top + p.height + (p.yd === 1 ? 23 : 20), "beta_hat_1", { size: 11, align: "center" }));
    els.push(T(p.ytx, p.top + p.height / 2, "beta_hat_2", { size: 11, align: "center", rot: Math.PI / 2 }));
  });

  // ---------- legends ----------
  const pBar = [P_HIGH, P_LOW];
  const cBar = [C_HIGH, C_MID, C_LOW];
  const pLabs = ["1.00", "0.75", "0.50", "0.25", "0.00"];
  // C1
  sizeLegend(els, 279, 545, 287, 303, 564, 581);
  els.push(T(279, 615, "P(Z = 1)", { size: 11 }));
  colorbar(els, 278, 628, 17, 84, pBar, pLabs, 300);
  paramLegend(els, 279, 739, [{ x1: 282, y1: 757, x2: 293, y2: 745, lx: 303, ly: 758, label: "eta" }]);
  // C2
  sizeLegend(els, 611, 538, 619, 633, 555, 573);
  els.push(T(611, 607, "P(Z = 1)", { size: 11 }));
  colorbar(els, 610, 618, 17, 85, pBar, pLabs, 633);
  paramLegend(els, 611, 732, [{ x1: 611, y1: 755, x2: 622, y2: 742, lx: 633, ly: 749, label: "eta" },
    { x1: 611, y1: 775, x2: 622, y2: 762, lx: 633, ly: 767, label: "gamma", dash: true }]);
  // C3
  sizeLegend(els, 939, 567, 948, 962, 586, 602);
  els.push(T(939, 638, "Contribution", { size: 11 }));
  els.push(T(939, 650, "to test statisitc", { size: 11 }));
  colorbar(els, 939, 662, 17, 83, cBar, ["1.0", "0.5", "0.0", MINUS + "0.5", MINUS + "1.0"], 962);
  // D1
  sizeLegend(els, 279, 1002, 287, 303, 1019, 1037);
  els.push(T(279, 1070, "P(Z = 1)", { size: 11 }));
  colorbar(els, 278, 1083, 17, 84, pBar, pLabs, 301);
  paramLegend(els, 279, 1195, [{ x1: 281, y1: 1217, x2: 292, y2: 1205, lx: 302, ly: 1213, label: "eta" }]);
  // D2
  sizeLegend(els, 611, 993, 619, 633, 1010, 1028);
  els.push(T(611, 1063, "P(Z = 1)", { size: 11 }));
  colorbar(els, 610, 1074, 17, 84, pBar, pLabs, 633);
  paramLegend(els, 611, 1187, [{ x1: 611, y1: 1211, x2: 621, y2: 1198, lx: 633, ly: 1205, label: "eta" },
    { x1: 611, y1: 1231, x2: 621, y2: 1218, lx: 633, ly: 1223, label: "gamma", dash: true }]);
  // D3
  sizeLegend(els, 940, 1023, 948, 962, 1041, 1058);
  els.push(T(940, 1094, "Contribution", { size: 11 }));
  els.push(T(940, 1106, "to test statisitc", { size: 11 }));
  colorbar(els, 939, 1117, 18, 83, cBar, ["1.5", "1.0", "0.5", "0.0", MINUS + "0.5", MINUS + "1.0", MINUS + "1.5"], 962);

  return { animation: false, backgroundColor: "#fff", textStyle: { fontFamily: SANS }, grid, xAxis, yAxis, series, visualMap, graphic: { elements: els } };
}

export default function App() {
  const ref = useRef<HTMLDivElement>(null);
  useEffect(() => {
    if (!ref.current) return;
    const chart = echarts.init(ref.current, undefined, { renderer: "svg" });
    chart.setOption(buildOption() as any);
    return () => chart.dispose();
  }, []);
  return <div ref={ref} style={{ position: "absolute", left: 0, top: 0, width: 1021, height: 1253, background: "#fff" }} />;
}
